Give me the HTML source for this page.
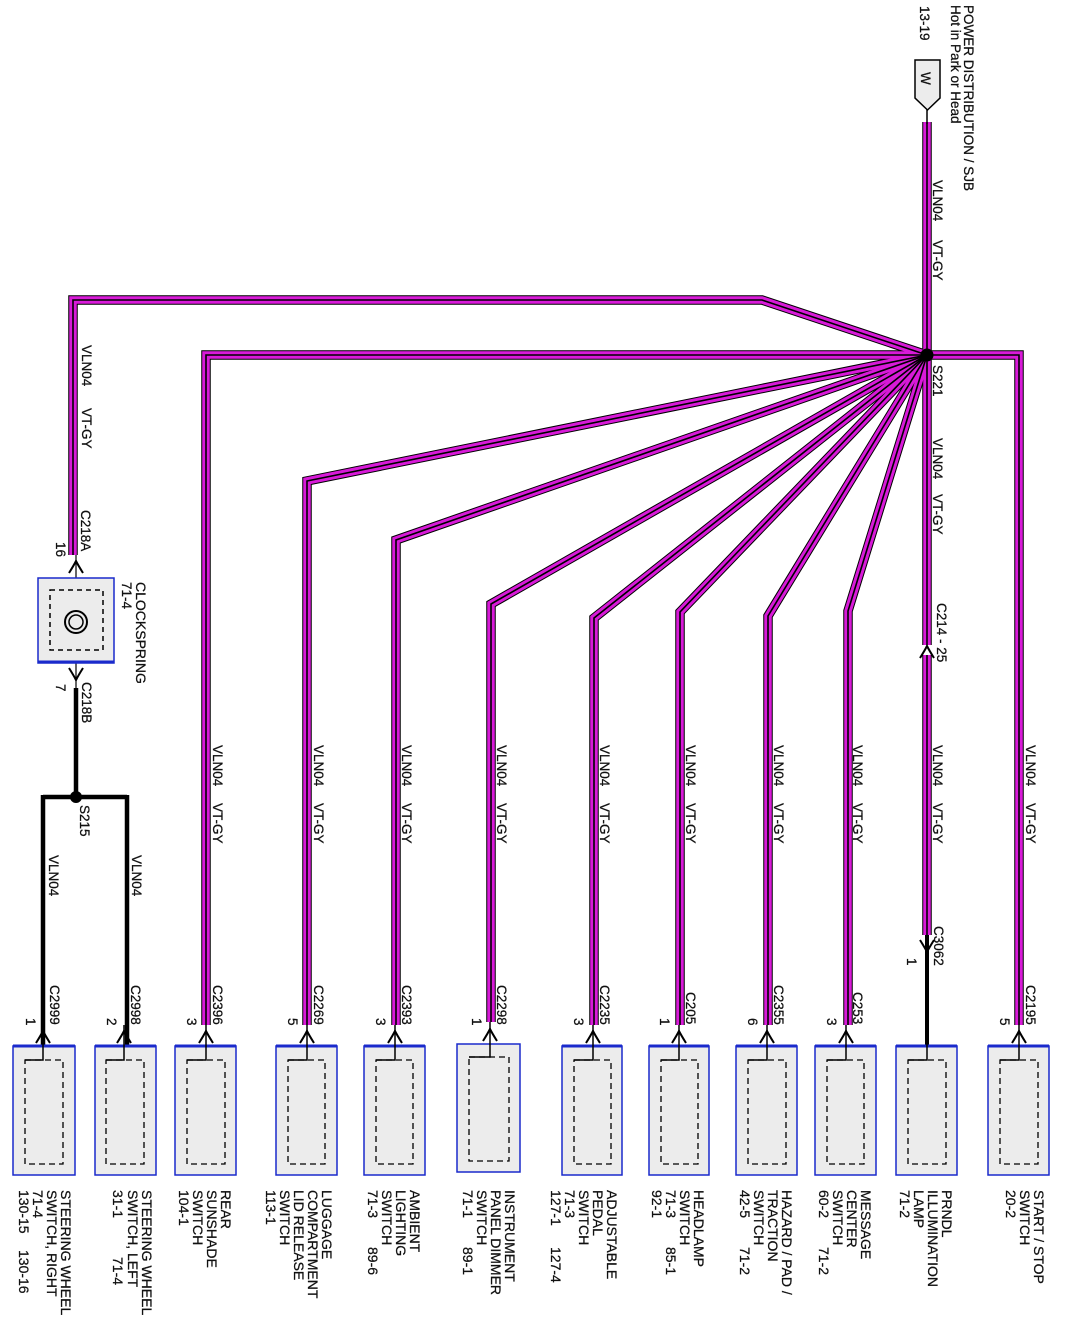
<!DOCTYPE html>
<html><head><meta charset="utf-8"><style>
html,body{margin:0;padding:0;background:#fff}
svg{display:block}
text{font-family:"Liberation Sans",Arial,sans-serif;font-size:13.5px;fill:#111;stroke:#111;stroke-width:0.25}
.lb{font-size:14px}
</style></head><body>
<svg width="1066" height="1324" viewBox="0 0 1066 1324" xmlns="http://www.w3.org/2000/svg">
<defs>
<g id="chev"><path d="M-7 8 Q-2 0 0 -4 Q2 0 7 8" fill="none" stroke="#000" stroke-width="2"/></g>
<g id="chevd"><path d="M-7 -8 Q-2 0 0 4 Q2 0 7 -8" fill="none" stroke="#000" stroke-width="2"/></g>
</defs>

<g fill="none" stroke-linejoin="miter">
<g id="wires">
<path d="M927 122 V645"/>
<path d="M927 655 V935"/>
<path d="M927 355 H1019 V1025"/>
<path d="M927 355 L762 300 H73 V555"/>
<path d="M927 355 H206 V1025"/>
<path d="M927 355 L307 481 V1025"/>
<path d="M927 355 L396 540 V1025"/>
<path d="M927 355 L491 604 V1022"/>
<path d="M927 355 L594 618 V1025"/>
<path d="M927 355 L680 612 V1025"/>
<path d="M927 355 L768 616 V1025"/>
<path d="M927 355 L848 611 V1025"/>
</g>
</g>
<use href="#wires" stroke="#000" stroke-width="9.5" fill="none"/>
<use href="#wires" stroke="#d81ad8" stroke-width="7.5" fill="none"/>
<use href="#wires" stroke="#000" stroke-width="1.6" fill="none"/>

<circle cx="927" cy="355" r="6.5" fill="#000"/>
<line x1="927" y1="96" x2="927" y2="124" stroke="#000" stroke-width="1.5"/>
<path d="M915 60 H940 V98 L927.5 110 L915 98 Z" fill="#ececec" stroke="#000" stroke-width="1.5"/>
<text transform="translate(921,72) rotate(90)" font-size="13">W</text>
<text transform="translate(920,6) rotate(90)" font-size="13">13-19</text>
<text transform="translate(964,5) rotate(90)" font-size="14">POWER DISTRIBUTION / SJB</text>
<text transform="translate(951,5) rotate(90)" font-size="12.5">Hot in Park or Head</text>

<text transform="translate(933,180) rotate(90)">VLN04</text>
<text transform="translate(933,240) rotate(90)">VT-GY</text>
<text transform="translate(933,365) rotate(90)">S221</text>
<text transform="translate(933,438) rotate(90)">VLN04</text>
<text transform="translate(933,494) rotate(90)">VT-GY</text>
<text transform="translate(937,603) rotate(90)">C214  -  25</text>
<use href="#chev" x="927" y="650"/>
<text transform="translate(933,745) rotate(90)">VLN04</text>
<text transform="translate(933,803) rotate(90)">VT-GY</text>
<text transform="translate(934,926) rotate(90)">C3062</text>
<text transform="translate(907,958) rotate(90)">1</text>
<use href="#chevd" x="927" y="948"/>
<line x1="927" y1="935" x2="927" y2="1046" stroke="#000" stroke-width="4"/>

<text transform="translate(82,345) rotate(90)">VLN04</text>
<text transform="translate(82,408) rotate(90)">VT-GY</text>
<text transform="translate(81,510) rotate(90)">C218A</text>
<text transform="translate(56,542) rotate(90)">16</text>
<line x1="76" y1="555" x2="76" y2="690" stroke="#000" stroke-width="1.2"/>
<use href="#chev" x="76" y="565"/>
<rect x="38" y="578" width="76" height="85" fill="#ececec" stroke="#1a2acc" stroke-width="1.5"/>
<line x1="38" y1="662" x2="114" y2="662" stroke="#1a2acc" stroke-width="3"/>
<rect x="50" y="590" width="53" height="60" fill="none" stroke="#000" stroke-width="1.5" stroke-dasharray="5,4"/>
<circle cx="76" cy="622" r="11" fill="none" stroke="#000" stroke-width="2"/>
<circle cx="76" cy="622" r="7" fill="none" stroke="#000" stroke-width="1.5"/>
<use href="#chevd" x="76" y="676"/>
<text transform="translate(122,582) rotate(90)">71-4</text>
<text transform="translate(136,582) rotate(90)" class="lb">CLOCKSPRING</text>
<text transform="translate(56,684) rotate(90)">7</text>
<text transform="translate(82,682) rotate(90)">C218B</text>
<path d="M76 688 V797 M43 797 H127 M43 795 V1046 M127 795 V1046" fill="none" stroke="#000" stroke-width="4.5"/>
<circle cx="76" cy="797" r="6" fill="#000"/>
<text transform="translate(80,805) rotate(90)">S215</text>
<text transform="translate(49,855) rotate(90)">VLN04</text>
<text transform="translate(132,855) rotate(90)">VLN04</text>

<g>
<text transform="translate(213,745) rotate(90)">VLN04</text><text transform="translate(213,803) rotate(90)">VT-GY</text>
<text transform="translate(314,745) rotate(90)">VLN04</text><text transform="translate(314,803) rotate(90)">VT-GY</text>
<text transform="translate(402,745) rotate(90)">VLN04</text><text transform="translate(402,803) rotate(90)">VT-GY</text>
<text transform="translate(497,745) rotate(90)">VLN04</text><text transform="translate(497,803) rotate(90)">VT-GY</text>
<text transform="translate(600,745) rotate(90)">VLN04</text><text transform="translate(600,803) rotate(90)">VT-GY</text>
<text transform="translate(686,745) rotate(90)">VLN04</text><text transform="translate(686,803) rotate(90)">VT-GY</text>
<text transform="translate(774,745) rotate(90)">VLN04</text><text transform="translate(774,803) rotate(90)">VT-GY</text>
<text transform="translate(853,745) rotate(90)">VLN04</text><text transform="translate(853,803) rotate(90)">VT-GY</text>
<text transform="translate(1026,745) rotate(90)">VLN04</text><text transform="translate(1026,803) rotate(90)">VT-GY</text>
</g>

<g>
<g fill="#ececec" stroke="#1a2acc" stroke-width="1.5">
<rect x="13" y="1046" width="62" height="129"/>
<rect x="95" y="1046" width="61" height="129"/>
<rect x="175" y="1046" width="61" height="129"/>
<rect x="276" y="1046" width="61" height="129"/>
<rect x="364" y="1046" width="61" height="129"/>
<rect x="457" y="1044" width="63" height="128"/>
<rect x="562" y="1046" width="60" height="129"/>
<rect x="649" y="1046" width="60" height="129"/>
<rect x="736" y="1046" width="61" height="129"/>
<rect x="815" y="1046" width="61" height="129"/>
<rect x="896" y="1046" width="61" height="129"/>
<rect x="988" y="1046" width="61" height="129"/>
</g>
<g stroke="#1a2acc" stroke-width="3">
<path d="M13 1046H75 M95 1046H156 M175 1046H236 M276 1046H337 M364 1046H425 M562 1046H622 M649 1046H709 M736 1046H797 M815 1046H876 M896 1046H957 M988 1046H1049"/>
</g>
<g fill="none" stroke="#000" stroke-width="1.3" stroke-dasharray="6,4">
<rect x="25" y="1060" width="38" height="104"/>
<rect x="106" y="1060" width="38" height="104"/>
<rect x="187" y="1060" width="38" height="104"/>
<rect x="288" y="1060" width="37" height="104"/>
<rect x="376" y="1060" width="37" height="104"/>
<rect x="469" y="1057" width="40" height="104"/>
<rect x="574" y="1060" width="37" height="104"/>
<rect x="661" y="1060" width="37" height="104"/>
<rect x="748" y="1060" width="38" height="104"/>
<rect x="827" y="1060" width="37" height="104"/>
<rect x="908" y="1060" width="38" height="104"/>
<rect x="1000" y="1060" width="38" height="104"/>
</g>
<g fill="none" stroke="#000" stroke-width="1.5">
<path d="M43 1025 V1060 H25 M124 1025 V1060 H106 M206 1025 V1060 H187 M307 1025 V1060 H288 M395 1025 V1060 H376 M490 1022 V1057 H469 M593 1025 V1060 H574 M679 1025 V1060 H661 M767 1025 V1060 H748 M846 1025 V1060 H827 M927 1040 V1060 H908 M1019 1025 V1060 H1000"/>
</g>
<use href="#chev" x="43" y="1035"/><use href="#chev" x="124" y="1035"/><use href="#chev" x="206" y="1035"/>
<use href="#chev" x="307" y="1035"/><use href="#chev" x="395" y="1035"/><use href="#chev" x="490" y="1033"/>
<use href="#chev" x="593" y="1035"/><use href="#chev" x="679" y="1035"/><use href="#chev" x="767" y="1035"/>
<use href="#chev" x="846" y="1035"/><use href="#chev" x="1019" y="1035"/>
</g>

<g>
<text transform="translate(50,985) rotate(90)">C2999</text><text transform="translate(26,1018) rotate(90)">1</text>
<text transform="translate(131,985) rotate(90)">C2998</text><text transform="translate(107,1018) rotate(90)">2</text>
<text transform="translate(213,985) rotate(90)">C2396</text><text transform="translate(187,1018) rotate(90)">3</text>
<text transform="translate(314,985) rotate(90)">C2269</text><text transform="translate(288,1018) rotate(90)">5</text>
<text transform="translate(402,985) rotate(90)">C2393</text><text transform="translate(376,1018) rotate(90)">3</text>
<text transform="translate(497,985) rotate(90)">C2298</text><text transform="translate(472,1018) rotate(90)">1</text>
<text transform="translate(600,985) rotate(90)">C2235</text><text transform="translate(574,1018) rotate(90)">3</text>
<text transform="translate(686,992) rotate(90)">C205</text><text transform="translate(660,1018) rotate(90)">1</text>
<text transform="translate(774,985) rotate(90)">C2355</text><text transform="translate(748,1018) rotate(90)">6</text>
<text transform="translate(853,992) rotate(90)">C253</text><text transform="translate(827,1018) rotate(90)">3</text>
<text transform="translate(1026,985) rotate(90)">C2195</text><text transform="translate(1000,1018) rotate(90)">5</text>
</g>

<g>
<text class="lb" transform="translate(61,1190) rotate(90)">STEERING WHEEL</text>
<text class="lb" transform="translate(47,1190) rotate(90)">SWITCH, RIGHT</text>
<text class="lb" transform="translate(33,1190) rotate(90)">71-4</text>
<text class="lb" transform="translate(19,1190) rotate(90)">130-15</text><text class="lb" transform="translate(19,1250) rotate(90)">130-16</text>

<text class="lb" transform="translate(142,1190) rotate(90)">STEERING WHEEL</text>
<text class="lb" transform="translate(128,1190) rotate(90)">SWITCH, LEFT</text>
<text class="lb" transform="translate(113,1190) rotate(90)">31-1</text><text class="lb" transform="translate(113,1257) rotate(90)">71-4</text>

<text class="lb" transform="translate(221,1190) rotate(90)">REAR</text>
<text class="lb" transform="translate(207,1190) rotate(90)">SUNSHADE</text>
<text class="lb" transform="translate(193,1190) rotate(90)">SWITCH</text>
<text class="lb" transform="translate(179,1190) rotate(90)">104-1</text>

<text class="lb" transform="translate(322,1190) rotate(90)">LUGGAGE</text>
<text class="lb" transform="translate(308,1190) rotate(90)">COMPARTMENT</text>
<text class="lb" transform="translate(294,1190) rotate(90)">LID RELEASE</text>
<text class="lb" transform="translate(280,1190) rotate(90)">SWITCH</text>
<text class="lb" transform="translate(266,1190) rotate(90)">113-1</text>

<text class="lb" transform="translate(410,1190) rotate(90)">AMBIENT</text>
<text class="lb" transform="translate(396,1190) rotate(90)">LIGHTING</text>
<text class="lb" transform="translate(382,1190) rotate(90)">SWITCH</text>
<text class="lb" transform="translate(368,1190) rotate(90)">71-3</text><text class="lb" transform="translate(368,1247) rotate(90)">89-6</text>

<text class="lb" transform="translate(505,1190) rotate(90)">INSTRUMENT</text>
<text class="lb" transform="translate(491,1190) rotate(90)">PANEL DIMMER</text>
<text class="lb" transform="translate(477,1190) rotate(90)">SWITCH</text>
<text class="lb" transform="translate(463,1190) rotate(90)">71-1</text><text class="lb" transform="translate(463,1247) rotate(90)">89-1</text>

<text class="lb" transform="translate(607,1190) rotate(90)">ADJUSTABLE</text>
<text class="lb" transform="translate(593,1190) rotate(90)">PEDAL</text>
<text class="lb" transform="translate(579,1190) rotate(90)">SWITCH</text>
<text class="lb" transform="translate(565,1190) rotate(90)">71-3</text>
<text class="lb" transform="translate(551,1190) rotate(90)">127-1</text><text class="lb" transform="translate(551,1247) rotate(90)">127-4</text>

<text class="lb" transform="translate(694,1190) rotate(90)">HEADLAMP</text>
<text class="lb" transform="translate(680,1190) rotate(90)">SWITCH</text>
<text class="lb" transform="translate(666,1190) rotate(90)">71-3</text><text class="lb" transform="translate(666,1247) rotate(90)">85-1</text>
<text class="lb" transform="translate(652,1190) rotate(90)">92-1</text>

<text class="lb" transform="translate(782,1190) rotate(90)">HAZARD / PAD /</text>
<text class="lb" transform="translate(768,1190) rotate(90)">TRACTION</text>
<text class="lb" transform="translate(754,1190) rotate(90)">SWITCH</text>
<text class="lb" transform="translate(740,1190) rotate(90)">42-5</text><text class="lb" transform="translate(740,1247) rotate(90)">71-2</text>

<text class="lb" transform="translate(861,1190) rotate(90)">MESSAGE</text>
<text class="lb" transform="translate(847,1190) rotate(90)">CENTER</text>
<text class="lb" transform="translate(833,1190) rotate(90)">SWITCH</text>
<text class="lb" transform="translate(819,1190) rotate(90)">60-2</text><text class="lb" transform="translate(819,1247) rotate(90)">71-2</text>

<text class="lb" transform="translate(942,1190) rotate(90)">PRNDL</text>
<text class="lb" transform="translate(928,1190) rotate(90)">ILLUMINATION</text>
<text class="lb" transform="translate(914,1190) rotate(90)">LAMP</text>
<text class="lb" transform="translate(900,1190) rotate(90)">71-2</text>

<text class="lb" transform="translate(1034,1190) rotate(90)">START / STOP</text>
<text class="lb" transform="translate(1020,1190) rotate(90)">SWITCH</text>
<text class="lb" transform="translate(1006,1190) rotate(90)">20-2</text>
</g>
</svg>
</body></html>
